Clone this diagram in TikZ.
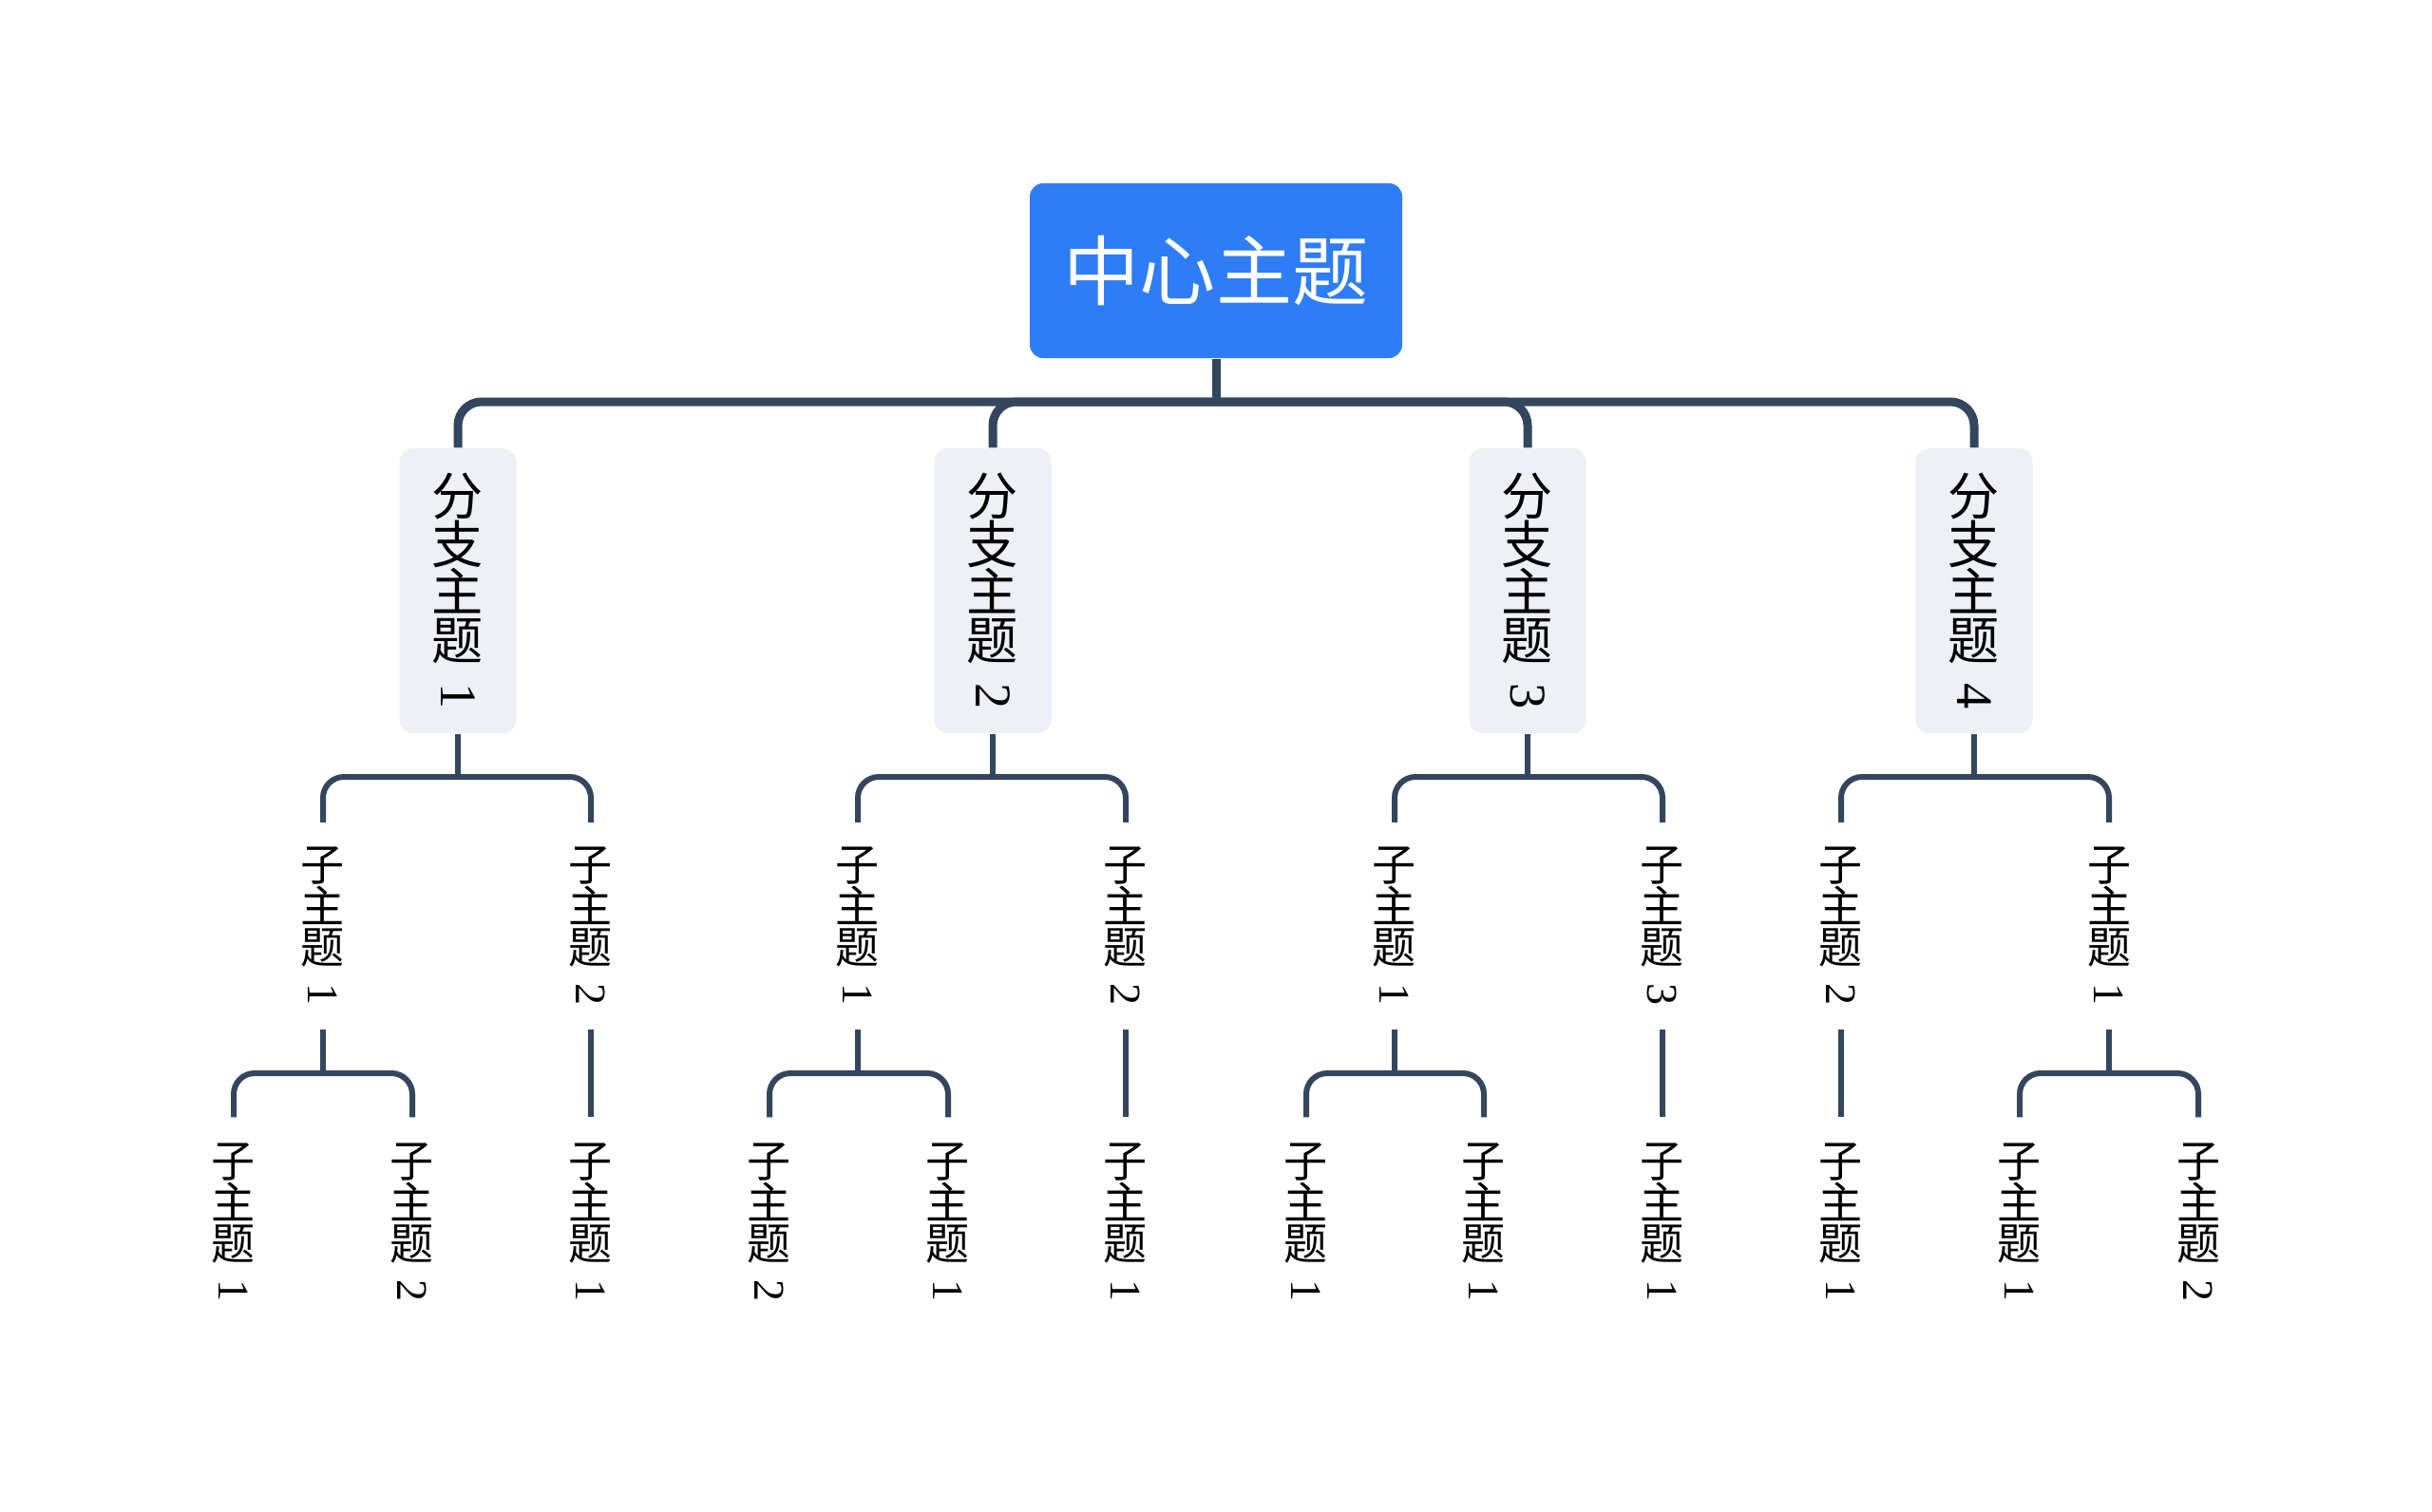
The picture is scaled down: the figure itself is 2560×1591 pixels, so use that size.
\documentclass[tikz,border=0pt]{standalone}
\usepackage{fontspec}
\usepackage{graphicx}
\usetikzlibrary{positioning}
\usepackage{xcolor}

\newfontfamily\cjk{Noto Sans CJK SC}
\newfontfamily\digits{Liberation Serif}

\definecolor{rootblue}{HTML}{2E7DF6}
\definecolor{branchgray}{HTML}{EDF0F4}
\definecolor{linkcol}{HTML}{33465E}

% digit turned as in vertical writing
\newcommand{\vnum}[1]{\rotatebox{-90}{\digits #1}}
\newcommand{\sublabel}[1]{子\\主\\题\\[-2.3mm]\vnum{#1}}
\newcommand{\branchlabel}[1]{分\\支\\主\\题\\[-2.65mm]\vnum{#1}}

\tikzset{
  root/.style={fill=rootblue, text=white, rounded corners=1.4mm,
    minimum width=39.2mm, minimum height=18.4mm, inner sep=0,
    font=\cjk\fontsize{22.8}{24}\selectfont},
  branch/.style={fill=branchgray, rounded corners=1.4mm,
    minimum width=12.3mm, minimum height=30mm, inner sep=0, align=center,
    font=\cjk\fontsize{15.4}{14.5}\selectfont},
  sub/.style={minimum width=6mm, minimum height=21.7mm, inner sep=0,
    align=center, font=\cjk\fontsize{13.1}{12.4}\selectfont},
  leaf/.style={sub, minimum height=22mm},
  bus/.style={draw=linkcol, line width=0.9mm, rounded corners=2.5mm},
  link/.style={draw=linkcol, line width=0.6mm, rounded corners=2.2mm},
}

\begin{document}
\begin{tikzpicture}[x=0.1mm, y=-0.1mm]
  \fill[white] (0,0) rectangle (2560,1591);
  \useasboundingbox (0,0) rectangle (2560,1591);

  % root
  \node[root] (root) at (1280,285) {中心主题};

  % branches
  \node[branch] (b1) at (482,622) {\branchlabel{1}};
  \node[branch] (b2) at (1045,622) {\branchlabel{2}};
  \node[branch] (b3) at (1608,622) {\branchlabel{3}};
  \node[branch] (b4) at (2078,622) {\branchlabel{4}};

  % subtopics
  \node[sub] (b1s1) at (340,975) {\sublabel{1}};
  \node[sub] (b1s2) at (622,975) {\sublabel{2}};
  \node[sub] (b2s1) at (903,975) {\sublabel{1}};
  \node[sub] (b2s2) at (1185,975) {\sublabel{2}};
  \node[sub] (b3s1) at (1468,975) {\sublabel{1}};
  \node[sub] (b3s2) at (1750,975) {\sublabel{3}};
  \node[sub] (b4s1) at (1938,975) {\sublabel{2}};
  \node[sub] (b4s2) at (2220,975) {\sublabel{1}};

  % leaves
  \node[leaf] (b1s1g1) at (246,1287) {\sublabel{1}};
  \node[leaf] (b1s1g2) at (434,1287) {\sublabel{2}};
  \node[leaf] (b1s2g1) at (622,1287) {\sublabel{1}};
  \node[leaf] (b2s1g1) at (810,1287) {\sublabel{2}};
  \node[leaf] (b2s1g2) at (998,1287) {\sublabel{1}};
  \node[leaf] (b2s2g1) at (1185,1287) {\sublabel{1}};
  \node[leaf] (b3s1g1) at (1375,1287) {\sublabel{1}};
  \node[leaf] (b3s1g2) at (1562,1287) {\sublabel{1}};
  \node[leaf] (b3s2g1) at (1750,1287) {\sublabel{1}};
  \node[leaf] (b4s1g1) at (1938,1287) {\sublabel{1}};
  \node[leaf] (b4s2g1) at (2126,1287) {\sublabel{1}};
  \node[leaf] (b4s2g2) at (2314,1287) {\sublabel{2}};

  % junction points
  \coordinate (rootj) at (1280,423);
  \coordinate (b1j) at (482,818);
  \coordinate (b2j) at (1045,818);
  \coordinate (b3j) at (1608,818);
  \coordinate (b4j) at (2078,818);
  \coordinate (b1s1j) at (340,1130);
  \coordinate (b2s1j) at (903,1130);
  \coordinate (b3s1j) at (1468,1130);
  \coordinate (b4s2j) at (2220,1130);

  % root to branches
  \draw[bus] (root.south) -- (rootj);
  \draw[bus] (rootj) -| (b1.north);
  \draw[bus] (rootj) -| (b2.north);
  \draw[bus] (rootj) -| (b3.north);
  \draw[bus] (rootj) -| (b4.north);

  % branches to subtopics
  \draw[link] (b1.south) -- (b1j);
  \draw[link] (b1j) -| (b1s1.north);
  \draw[link] (b1j) -| (b1s2.north);
  \draw[link] (b2.south) -- (b2j);
  \draw[link] (b2j) -| (b2s1.north);
  \draw[link] (b2j) -| (b2s2.north);
  \draw[link] (b3.south) -- (b3j);
  \draw[link] (b3j) -| (b3s1.north);
  \draw[link] (b3j) -| (b3s2.north);
  \draw[link] (b4.south) -- (b4j);
  \draw[link] (b4j) -| (b4s1.north);
  \draw[link] (b4j) -| (b4s2.north);

  % subtopics to leaves
  \draw[link] (b1s1.south) -- (b1s1j);
  \draw[link] (b1s1j) -| (b1s1g1.north);
  \draw[link] (b1s1j) -| (b1s1g2.north);
  \draw[link] (b1s2.south) -- (b1s2g1.north);
  \draw[link] (b2s1.south) -- (b2s1j);
  \draw[link] (b2s1j) -| (b2s1g1.north);
  \draw[link] (b2s1j) -| (b2s1g2.north);
  \draw[link] (b2s2.south) -- (b2s2g1.north);
  \draw[link] (b3s1.south) -- (b3s1j);
  \draw[link] (b3s1j) -| (b3s1g1.north);
  \draw[link] (b3s1j) -| (b3s1g2.north);
  \draw[link] (b3s2.south) -- (b3s2g1.north);
  \draw[link] (b4s1.south) -- (b4s1g1.north);
  \draw[link] (b4s2.south) -- (b4s2j);
  \draw[link] (b4s2j) -| (b4s2g1.north);
  \draw[link] (b4s2j) -| (b4s2g2.north);
\end{tikzpicture}
\end{document}
